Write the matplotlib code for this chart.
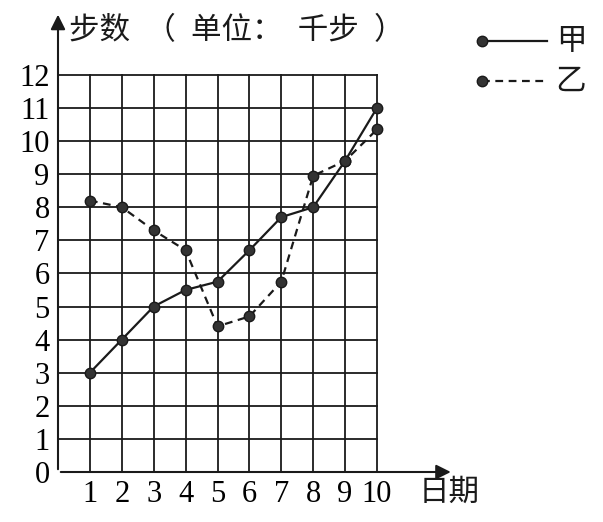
import matplotlib.pyplot as plt
from matplotlib.lines import Line2D

# data
days = [1, 2, 3, 4, 5, 6, 7, 8, 9, 10]
steps_jia = [3, 4, 5, 5.5, 5.75, 6.7, 7.7, 8, 9.4, 11]
steps_yi = [8.2, 8, 7.3, 6.7, 4.4, 4.7, 5.75, 8.95, 9.4, 10.35]
y_ticks = list(range(0, 13))
y_title = '步数\u2002（\u2002单位：\u2002千步\u2002）'
x_title = '日期'
names = ['甲', '乙']

cjk = ['Noto Sans CJK SC', 'DejaVu Sans']
serif = 'Liberation Serif'
ink = '#1a1a1a'

fig = plt.figure(figsize=(6.03, 5.22), dpi=100)
ax = fig.add_axes([58/603, 50/522, 12.4*31.9/603, 13.9*33.1/522])
ax.set_xlim(0, 12.4)
ax.set_ylim(0, 13.9)
for s in ax.spines.values():
    s.set_visible(False)

# grid
for x in days:
    ax.plot([x, x], [0, 12], color=ink, lw=1.3, zorder=1)
for y in y_ticks[1:]:
    ax.plot([0, 10], [y, y], color=ink, lw=1.3, zorder=1)

# axes with arrows
ax.annotate('', xy=(12.4, 0), xytext=(0, 0),
            arrowprops=dict(arrowstyle='-|>', color=ink, lw=1.5, mutation_scale=22))
ax.annotate('', xy=(0, 13.9), xytext=(0, 0),
            arrowprops=dict(arrowstyle='-|>', color=ink, lw=1.5, mutation_scale=22))

# lines
ax.plot(days, steps_jia, color=ink, lw=1.6, marker='o', ms=7.5,
        mfc='#333333', mec=ink, zorder=3)
ax.plot(days, steps_yi, color=ink, lw=1.6, ls=(0, (3.5, 2.5)), marker='o', ms=7.5,
        mfc='#333333', mec=ink, zorder=3)

ax.set_xticks(days)
ax.set_xticklabels([str(d) for d in days], fontfamily=serif, fontsize=22)
ax.set_yticks(y_ticks)
ax.set_yticklabels([str(v) for v in y_ticks], fontfamily=serif, fontsize=22)
ax.tick_params(length=0, pad=6)

ax.text(0.35, 13.35, y_title, family=cjk, fontsize=22, va='center', ha='left', color=ink)
ax.text(12.25, -0.62, x_title, family=cjk, fontsize=22, va='center', ha='center', color=ink)

# legend drawn by hand
for i, name in enumerate(names):
    yy = 1 - (41 + 40*i)/522
    style = '-' if i == 0 else (0, (3.5, 2.5))
    fig.add_artist(Line2D([482/603, 547/603], [yy, yy], color=ink, lw=1.6, ls=style))
    fig.add_artist(Line2D([482/603], [yy], marker='o', ms=7.5, mfc='#333333', mec=ink))
    fig.text(571/603, yy, name, family=cjk, fontsize=22, va='center', ha='center', color=ink)

fig.savefig('out.png', dpi=100)
